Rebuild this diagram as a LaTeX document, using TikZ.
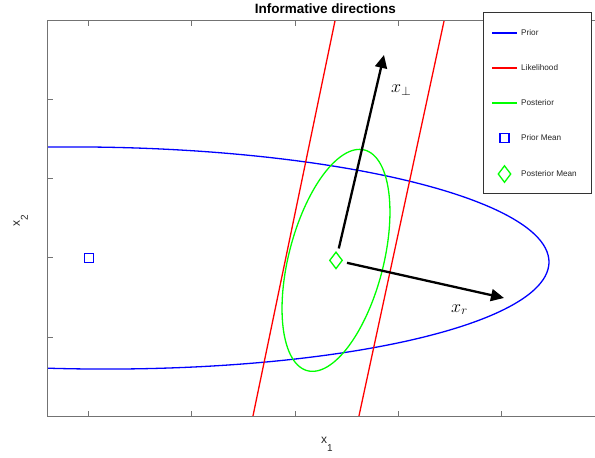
\RequirePackage{fix-cm}
\documentclass[tikz,border=0pt]{standalone}
\usepackage{fontspec}
\setmainfont{Liberation Sans}
\usetikzlibrary{arrows.meta,shapes.geometric}

\begin{document}
\begin{tikzpicture}[x=103pt,y=79pt,axisline/.style={black!55, line width=1pt},tickmark/.style={black!55, line width=1pt},prior/.style={blue, line width=1.3pt},lik/.style={red, line width=1.3pt},post/.style={green, line width=1.3pt},pmark/.style={draw=blue, rectangle, line width=1.3pt, minimum size=9pt, inner sep=0pt},qmark/.style={draw=green, diamond, line width=1.3pt, minimum width=13pt, minimum height=17pt, inner sep=0pt},infoarrow/.style={-{Triangle[length=13pt,width=12pt]}, line width=2.3pt, shorten <=5pt},leg/.style={anchor=west, font=\fontsize{8.2}{10}\selectfont, text=black!85, inner sep=0pt},mathlab/.style={anchor=base west, font=\fontsize{18}{20}\selectfont, inner sep=0pt},axlab/.style={anchor=base west, font=\fontsize{12}{14}\selectfont, text=black!85, inner sep=0pt}]
\useasboundingbox (-89pt,-200pt) rectangle (506pt,258pt);
% curves, clipped to the axes
\begin{scope}
\clip (-0.4,-2) rectangle (5,3);
\draw[prior] plot[domain=0:360, samples=200, smooth] ({4.466*cos(\x)-0.01*sin(\x)}, {-0.054*cos(\x)-1.405*sin(\x)});
\draw[lik] (2.388,3) -- (1.592,-2);
\draw[lik] (3.447,3) -- (2.621,-2);
\draw[post] plot[domain=0:360, samples=120, smooth] ({2.398+0.2771*cos(\x)+0.4446*sin(\x)}, {-0.03+1.397*cos(\x)-0.1499*sin(\x)});
\end{scope}
\node[pmark] (priormean) at (0,0) {};
\node[qmark] (postmean) at (2.398,-0.03) {};
\coordinate (perptip) at (2.864,2.570);
\coordinate (rtip) at (4.029,-0.506);
\draw[infoarrow] (postmean) -- (perptip);
\draw[infoarrow] (postmean) -- (rtip);
\node[mathlab] (perplab) at (2.932,2.089) {$x_\perp$};
\node[mathlab] (rlab) at (3.515,-0.684) {$x_r$};
% axes
\draw[axisline] (5,3) -- (-0.4,3) -- (-0.4,-2) -- (5,-2);
\foreach \x in {0,...,4} {\draw[tickmark] (\x,-2) -- ++(0,5pt); \draw[tickmark] (\x,3) -- ++(0,-5pt);}
\foreach \y in {-1,...,2} \draw[tickmark] (-0.4,\y) -- ++(5pt,0);
\node[font=\fontsize{13.5}{16}\selectfont\bfseries, anchor=base, inner sep=0pt] (title) at (2.296,3.095) {Informative directions};
\node[axlab] (xlab) at (2.252,-2.354) {x\raisebox{-8pt}{\fontsize{10}{12}\selectfont 1}};
\node[axlab, rotate=90] (ylab) at (-0.670,0.392) {x\raisebox{-8pt}{\fontsize{10}{12}\selectfont 2}};
% legend
\node[draw=black!80, fill=white, line width=0.8pt, minimum width=108pt, minimum height=181pt, inner sep=0pt, anchor=north west] (legend) at (3.825,3.114) {};
\foreach \y/\c/\t [count=\i] in {2.848/blue/Prior, 2.405/red/Likelihood, 1.962/green/Posterior} {
  \draw[\c, line width=1.3pt] (3.913,\y) -- (4.155,\y);
  \node[leg] (legtext\i) at (4.194,\y) {\t};
}
\node[pmark] (legprior) at (4.034,1.519) {};
\node[leg] (legtext4) at (4.194,1.519) {Prior Mean};
\node[qmark] (legpost) at (4.034,1.063) {};
\node[leg] (legtext5) at (4.194,1.063) {Posterior Mean};
\end{tikzpicture}
\end{document}
